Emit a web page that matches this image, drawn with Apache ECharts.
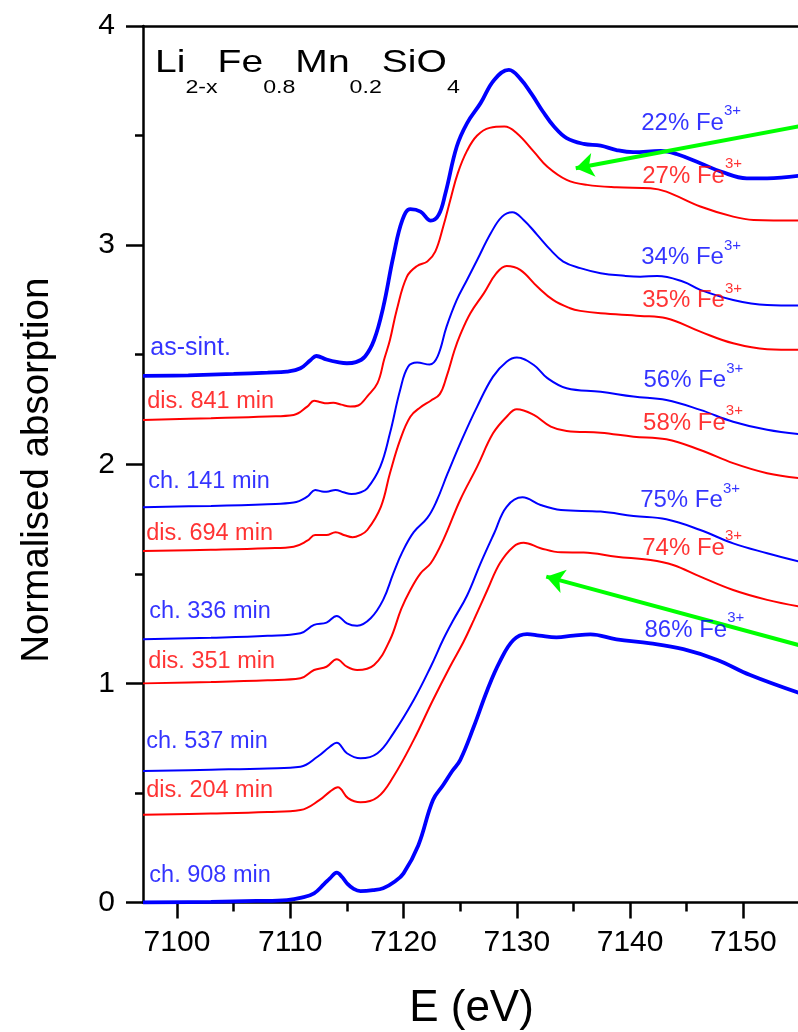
<!DOCTYPE html>
<html>
<head>
<meta charset="utf-8">
<script src="https://cdn.jsdelivr.net/npm/echarts@6/dist/echarts.min.js"></script>
<style>
  html, body { margin: 0; padding: 0; background: #ffffff; }
  #chart { width: 798px; height: 1032px; }
</style>
</head>
<body>
<div id="chart"></div>
<script>
// Fe K-edge XANES spectra, offset vertically; [energy (eV), normalised absorption + offset]
const asSint = [
  [7097, 2.403], [7101, 2.406], [7105, 2.412], [7108, 2.418], [7109.7, 2.423], [7110.9, 2.438],
  [7111.8, 2.476], [7112.3, 2.494], [7113.2, 2.478], [7114.2, 2.466], [7115.0, 2.461], [7115.8, 2.466],
  [7116.6, 2.492], [7117.4, 2.567], [7118.2, 2.715], [7119.1, 2.948], [7119.9, 3.115], [7120.6, 3.164],
  [7121.5, 3.153], [7122.4, 3.112], [7123.1, 3.138], [7123.7, 3.237], [7124.7, 3.45], [7125.6, 3.556],
  [7126.8, 3.648], [7128.0, 3.754], [7129.3, 3.80], [7130.3, 3.76], [7131.3, 3.69], [7132.3, 3.61],
  [7133.3, 3.54], [7134.4, 3.488], [7135.9, 3.462], [7137.4, 3.454], [7138.8, 3.434], [7140.3, 3.424],
  [7142.7, 3.43], [7144.1, 3.416], [7146.2, 3.374], [7148.0, 3.336], [7150.3, 3.305], [7152.1, 3.305],
  [7155, 3.317]
];
const dis841 = [
  [7097, 2.202], [7103, 2.210], [7108, 2.218], [7110.3, 2.225], [7111.5, 2.263], [7112.1, 2.29],
  [7112.7, 2.283], [7113.2, 2.278], [7113.8, 2.281], [7114.5, 2.272], [7115.3, 2.263], [7116.0, 2.268],
  [7116.8, 2.31], [7117.7, 2.37], [7118.3, 2.48], [7118.8, 2.567], [7119.4, 2.704], [7120.3, 2.856],
  [7121.2, 2.905], [7122.1, 2.925], [7122.8, 2.97], [7123.5, 3.084], [7124.2, 3.22], [7124.8, 3.33],
  [7125.6, 3.43], [7126.5, 3.50], [7127.6, 3.535], [7128.9, 3.541], [7130.0, 3.511], [7131.5, 3.427],
  [7132.7, 3.358], [7134.4, 3.298], [7136.2, 3.275], [7138.8, 3.264], [7141.8, 3.26], [7143.2, 3.244],
  [7146.2, 3.176], [7149.1, 3.13], [7150.9, 3.115], [7155, 3.112]
];
const ch141 = [
  [7097, 1.804], [7103, 1.810], [7108, 1.818], [7110.3, 1.825], [7111.5, 1.852], [7112.2, 1.883],
  [7112.8, 1.876], [7113.2, 1.875], [7114.0, 1.883], [7114.7, 1.872], [7115.4, 1.864], [7116.1, 1.870],
  [7116.8, 1.89], [7117.95, 1.989], [7118.8, 2.141], [7119.7, 2.339], [7120.4, 2.445], [7121.2, 2.464],
  [7122.3, 2.455], [7123.0, 2.491], [7123.8, 2.628], [7124.7, 2.75], [7125.6, 2.841], [7126.5, 2.932],
  [7127.7, 3.054], [7128.7, 3.13], [7129.6, 3.15], [7130.6, 3.115], [7131.8, 3.047], [7133.0, 2.977],
  [7134.1, 2.925], [7135.6, 2.895], [7137.4, 2.872], [7139.5, 2.86], [7140.9, 2.856], [7142.4, 2.859],
  [7144.7, 2.833], [7146.2, 2.796], [7149.1, 2.75], [7152.1, 2.727], [7155, 2.724]
];
const dis694 = [
  [7097, 1.604], [7103, 1.610], [7108, 1.617], [7110.3, 1.624], [7111.5, 1.651], [7112.2, 1.677],
  [7113.2, 1.677], [7114.0, 1.69], [7114.8, 1.676], [7115.5, 1.667], [7116.1, 1.675], [7116.8, 1.70],
  [7118.0, 1.806], [7118.8, 1.959], [7119.7, 2.111], [7120.6, 2.217], [7121.5, 2.26], [7122.4, 2.29],
  [7123.2, 2.32], [7123.8, 2.40], [7124.5, 2.52], [7125.0, 2.59], [7125.9, 2.689], [7127.1, 2.781],
  [7128.2, 2.872], [7129.1, 2.905], [7130.3, 2.887], [7131.8, 2.811], [7133.2, 2.75], [7134.7, 2.712],
  [7135.6, 2.70], [7137.4, 2.689], [7140.9, 2.677], [7143.2, 2.666], [7146.2, 2.605], [7149.1, 2.552],
  [7152.1, 2.525], [7155, 2.522]
];
const ch336 = [
  [7097, 1.201], [7103, 1.208], [7108, 1.217], [7110.9, 1.229], [7112.1, 1.267], [7113.2, 1.277],
  [7114.1, 1.308], [7115.0, 1.274], [7115.9, 1.263], [7117.1, 1.297], [7118.2, 1.381], [7119.1, 1.502],
  [7119.9, 1.60], [7120.9, 1.69], [7122.1, 1.755], [7122.9, 1.83], [7123.9, 1.959], [7125.2, 2.118],
  [7126.5, 2.263], [7127.9, 2.40], [7129.1, 2.468], [7130.0, 2.487], [7131.5, 2.453], [7132.7, 2.393],
  [7134.4, 2.347], [7137.4, 2.331], [7140.3, 2.309], [7143.2, 2.293], [7146.2, 2.248], [7149.1, 2.194],
  [7152.1, 2.157], [7155, 2.137]
];
const dis351 = [
  [7097, 1.0], [7103, 1.006], [7108, 1.014], [7110.9, 1.023], [7112.1, 1.061], [7113.2, 1.076],
  [7114.1, 1.11], [7115.0, 1.076], [7115.9, 1.061], [7117.4, 1.084], [7118.8, 1.198], [7119.8, 1.34],
  [7120.6, 1.426], [7121.5, 1.502], [7122.4, 1.548], [7123.5, 1.654], [7125.0, 1.837], [7126.5, 1.989],
  [7127.9, 2.141], [7129.1, 2.217], [7130.0, 2.251], [7131.5, 2.225], [7133.0, 2.172], [7134.4, 2.152],
  [7137.4, 2.144], [7140.3, 2.126], [7143.2, 2.114], [7146.2, 2.065], [7149.1, 2.005], [7152.1, 1.959],
  [7155, 1.936]
];
const ch537 = [
  [7097, 0.6], [7103, 0.606], [7108, 0.612], [7110.9, 0.62], [7112.4, 0.665], [7113.5, 0.711],
  [7114.1, 0.729], [7115.0, 0.681], [7116.2, 0.658], [7117.7, 0.681], [7119.1, 0.772], [7120.9, 0.924],
  [7122.4, 1.076], [7123.5, 1.2], [7124.4, 1.289], [7125.6, 1.40], [7126.8, 1.548], [7128.0, 1.685],
  [7129.1, 1.806], [7130.5, 1.849], [7132.1, 1.814], [7133.9, 1.791], [7137.4, 1.784], [7140.3, 1.764],
  [7143.2, 1.749], [7146.2, 1.70], [7149.1, 1.639], [7152.1, 1.594], [7155, 1.555]
];
const dis204 = [
  [7097, 0.4], [7103, 0.406], [7108, 0.413], [7110.9, 0.422], [7112.6, 0.468], [7113.5, 0.506],
  [7114.2, 0.526], [7115.1, 0.476], [7116.2, 0.457], [7117.7, 0.48], [7119.1, 0.574], [7120.9, 0.742],
  [7122.6, 0.924], [7124.1, 1.076], [7125.3, 1.19], [7126.2, 1.289], [7127.4, 1.426], [7128.5, 1.548],
  [7129.7, 1.624], [7130.6, 1.642], [7132.1, 1.617], [7133.9, 1.598], [7135.9, 1.597], [7138.8, 1.578],
  [7141.8, 1.563], [7143.8, 1.54], [7146.2, 1.487], [7149.1, 1.426], [7152.1, 1.381], [7155, 1.35]
];
const ch908 = [
  [7097, 0.0], [7103, 0.003], [7107, 0.007], [7109.7, 0.011], [7111.0, 0.022], [7112.1, 0.042],
  [7113.0, 0.085], [7113.5, 0.11], [7114.1, 0.136], [7114.6, 0.115], [7115.0, 0.088], [7115.6, 0.062],
  [7116.2, 0.052], [7117.3, 0.056], [7118.2, 0.065], [7119.2, 0.095], [7120.0, 0.133], [7121.3, 0.26],
  [7122.6, 0.468], [7123.5, 0.536], [7124.3, 0.6], [7125.0, 0.65], [7126.2, 0.802], [7127.4, 0.97],
  [7128.5, 1.099], [7129.7, 1.198], [7130.9, 1.225], [7132.0, 1.218], [7133.5, 1.21], [7135.0, 1.218],
  [7136.5, 1.224], [7138.8, 1.201], [7141.8, 1.183], [7144.7, 1.156], [7147.7, 1.107], [7150.6, 1.038],
  [7155, 0.955]
];

const spectra = [asSint, dis841, ch141, dis694, ch336, dis351, ch537, dis204, ch908];
const sampleNames = ['as-sint.', 'dis. 841 min', 'ch. 141 min', 'dis. 694 min', 'ch. 336 min',
                     'dis. 351 min', 'ch. 537 min', 'dis. 204 min', 'ch. 908 min'];
const fe3Percent = [22, 27, 34, 35, 56, 58, 75, 74, 86];

const xMajorTicks = [7100, 7110, 7120, 7130, 7140, 7150];
const xMinorTicks = [7105, 7115, 7125, 7135, 7145];
const formula = ['Li', '2-x', 'Fe', '0.8', 'Mn', '0.2', 'SiO', '4'];
const xName = 'E (eV)';
const yName = 'Normalised absorption';

// Styling for each spectrum (blue = charge, red = discharge)
const BLUE = '#0000ff', RED = '#ff0000', GREEN = '#00ff00', BLACK = '#000000';
const colors = [BLUE, RED, BLUE, RED, BLUE, RED, BLUE, RED, BLUE];
const widths = [3.8, 2, 2, 2, 2, 2, 2, 2, 3.8];

// Label anchors (left-middle of the text) in axis units
const nameAnchors = [
  [7097.64, 2.531], [7097.38, 2.285], [7097.47, 1.923], [7097.29, 1.684], [7097.56, 1.327],
  [7097.47, 1.099], [7097.29, 0.733], [7097.29, 0.510], [7097.56, 0.125]
];
const pctAnchors = [
  [7140.98, 3.556], [7141.07, 3.316], [7140.98, 2.943], [7141.07, 2.747], [7141.18, 2.381],
  [7141.15, 2.187], [7140.89, 1.833], [7141.07, 1.617], [7141.27, 1.244]
];
// Trend arrows: [start, tip]
const arrowTop = [[7155, 3.543], [7135.2, 3.351]];
const arrowBottom = [[7155, 1.173], [7132.6, 1.487]];

const FONT = '"Liberation Sans", Arial, Helvetica, sans-serif';
const AXIS_W = 2.5;

const chart = echarts.init(document.getElementById('chart'), null, { renderer: 'canvas' });

const lineSeries = spectra.map((d, i) => ({
  type: 'line',
  name: sampleNames[i],
  data: d,
  showSymbol: false,
  smooth: 0.4,
  lineStyle: { color: colors[i], width: widths[i] },
  z: 3
}));

const nameLabelSeries = {
  type: 'scatter',
  symbolSize: 0,
  silent: true,
  data: nameAnchors.map((p, i) => ({
    value: p,
    label: {
      formatter: sampleNames[i],
      color: colors[i],
      fontSize: i === 0 ? 25 : 23.5
    }
  })),
  label: {
    show: true, position: 'right', distance: 0,
    align: 'left', verticalAlign: 'middle', fontFamily: FONT
  },
  z: 5
};

const pctLabelSeries = {
  type: 'scatter',
  symbolSize: 0,
  silent: true,
  data: pctAnchors.map((p, i) => {
    const k = colors[i] === BLUE ? 'b' : 'r';
    return {
      value: p,
      label: { formatter: '{m' + k + '|' + fe3Percent[i] + '% Fe}{s' + k + '|3+}' }
    };
  }),
  label: {
    show: true, position: 'right', distance: 0,
    align: 'left', verticalAlign: 'middle', fontFamily: FONT,
    rich: {
      mb: { fontSize: 24, color: BLUE, fontFamily: FONT, verticalAlign: 'middle' },
      sb: { fontSize: 15, color: BLUE, fontFamily: FONT, verticalAlign: 'middle', padding: [0, 0, 24, 0] },
      mr: { fontSize: 24, color: RED, fontFamily: FONT, verticalAlign: 'middle' },
      sr: { fontSize: 15, color: RED, fontFamily: FONT, verticalAlign: 'middle', padding: [0, 0, 24, 0] }
    }
  },
  z: 5
};

const arrowSeries = {
  type: 'line',
  data: [],
  silent: true,
  markLine: {
    silent: true,
    animation: false,
    symbol: ['none', 'arrow'],
    symbolSize: 18,
    label: { show: false },
    lineStyle: { color: GREEN, width: 4, type: 'solid' },
    itemStyle: { color: GREEN },
    emphasis: { disabled: true },
    data: [
      [{ coord: arrowTop[0] }, { coord: arrowTop[1] }],
      [{ coord: arrowBottom[0] }, { coord: arrowBottom[1] }]
    ]
  },
  z: 4
};

// Compound formula in the top-left corner, with subscripts
const formulaText = formula.map((t, i) => (i % 2 === 0 ? '{m|' + t + '}' : '{s|' + t + '}')).join('');

const option = {
  animation: false,
  backgroundColor: '#ffffff',
  grid: { left: 143, top: 26, width: 657, height: 876.5, containLabel: false, outerBoundsMode: 'none' },
  graphic: [{
    type: 'text',
    x: 155,
    y: 47,
    scaleX: 1.22,
    scaleY: 1,
    silent: true,
    z: 10,
    style: {
      text: formulaText,
      x: 0, y: 0,
      align: 'left', verticalAlign: 'top',
      fill: BLACK,
      rich: {
        m: { fontSize: 32, fill: BLACK, fontFamily: FONT, verticalAlign: 'middle', lineHeight: 32 },
        s: { fontSize: 19, fill: BLACK, fontFamily: FONT, verticalAlign: 'middle', lineHeight: 19,
             padding: [49, 0, 0, 0] }
      }
    }
  }],
  xAxis: [
    {
      type: 'value', position: 'bottom', min: 7097, max: 7155,
      name: xName, nameLocation: 'middle', nameGap: 84,
      nameTextStyle: { fontSize: 44, color: BLACK, fontFamily: FONT },
      axisLine: { show: true, onZero: false, lineStyle: { color: BLACK, width: AXIS_W } },
      axisTick: { show: true, inside: false, length: 16, customValues: xMajorTicks,
                  lineStyle: { color: BLACK, width: AXIS_W } },
      axisLabel: { show: true, customValues: xMajorTicks, fontSize: 30, color: BLACK,
                   fontFamily: FONT, margin: 25, formatter: v => String(v) },
      splitLine: { show: false }
    },
    {
      type: 'value', position: 'bottom', min: 7097, max: 7155,
      axisLine: { show: false, onZero: false },
      axisTick: { show: true, inside: false, length: 9, customValues: xMinorTicks,
                  lineStyle: { color: BLACK, width: AXIS_W } },
      axisLabel: { show: false },
      splitLine: { show: false }
    },
    {
      type: 'value', position: 'top', min: 7097, max: 7155,
      axisLine: { show: true, onZero: false, lineStyle: { color: BLACK, width: AXIS_W } },
      axisTick: { show: false },
      axisLabel: { show: false },
      splitLine: { show: false }
    }
  ],
  yAxis: {
    type: 'value', min: 0, max: 4, interval: 1,
    name: yName, nameLocation: 'middle', nameGap: 86,
    nameTextStyle: { fontSize: 38.5, color: BLACK, fontFamily: FONT, padding: [0, 12, 0, 0] },
    axisLine: { show: true, onZero: false, lineStyle: { color: BLACK, width: AXIS_W } },
    axisTick: { show: true, inside: false, length: 17, lineStyle: { color: BLACK, width: AXIS_W } },
    minorTick: { show: true, splitNumber: 2, length: 8, lineStyle: { color: BLACK, width: AXIS_W } },
    axisLabel: { fontSize: 30, color: BLACK, fontFamily: FONT, margin: 28 },
    splitLine: { show: false },
    minorSplitLine: { show: false }
  },
  series: [...lineSeries, arrowSeries, nameLabelSeries, pctLabelSeries]
};

chart.setOption(option);
</script>
</body>
</html>
